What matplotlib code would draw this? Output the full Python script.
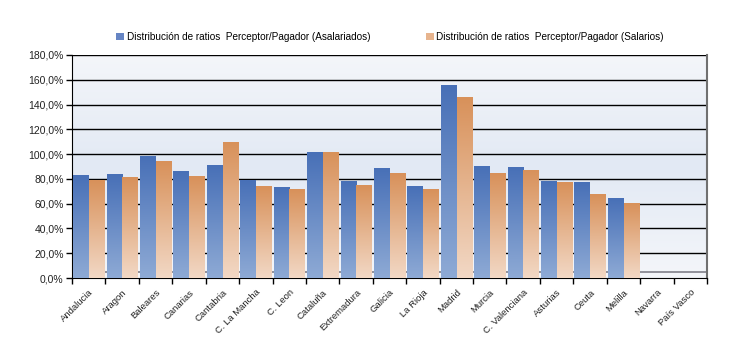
import numpy as np
import matplotlib
matplotlib.use("Agg")
import matplotlib.pyplot as plt
from matplotlib.colors import LinearSegmentedColormap
from matplotlib.patches import Patch

plt.rcParams['font.family'] = ['Liberation Sans', 'DejaVu Sans']

categories = ["Andalucia", "Aragon", "Baleares", "Canarias", "Cantabria", "C. La Mancha",
              "C. Leon", "Cataluña", "Extremadura", "Galicia", "La Rioja", "Madrid",
              "Murcia", "C. Valenciana", "Asturias", "Ceuta", "Melilla", "Navarra", "País Vasco"]
asalariados = [82.5, 83.5, 98.0, 86.0, 91.0, 79.0, 73.0, 101.5, 78.0, 88.5, 74.0, 155.5,
               90.0, 89.0, 78.0, 77.0, 64.5, 0.0, 0.0]
salarios = [78.5, 81.0, 94.0, 82.0, 109.5, 74.0, 71.5, 101.0, 75.0, 84.5, 71.5, 146.0,
            84.5, 87.0, 77.0, 67.5, 60.0, 0.0, 0.0]
series_names = ["Distribución de ratios  Perceptor/Pagador (Asalariados)",
                "Distribución de ratios  Perceptor/Pagador (Salarios)"]
yticks = np.arange(0, 181, 20)

blue_top, blue_bot = "#4870B7", "#8EAAD5"
orange_top, orange_bot = "#D8915A", "#F2D8C5"

fig = plt.figure(figsize=(7.36, 3.6), dpi=100)
ax = fig.add_axes([72/736, 1-278/360, 635/736, 223/360])

n = len(categories)
x = np.arange(n)
w = 0.46

# background gradient
bg = LinearSegmentedColormap.from_list("bg", ["#F4F6FA", "#E2E9F4", "#F4F6FA"])
ax.imshow(np.linspace(0, 1, 256).reshape(-1, 1), cmap=bg, aspect="auto",
          extent=[-0.5, n - 0.5, 0, 180], zorder=0, origin="upper")

# gridlines
for v in yticks[1:]:
    ax.axhline(v, color="black", lw=1.0, zorder=1)
# floor line
ax.axhline(4.6, color="#80808A", lw=1.2, zorder=1)

def grad_bars(xs, vals, top, bot, z):
    cmap = LinearSegmentedColormap.from_list("g", [bot, top])
    bars = ax.bar(xs, vals, width=w, color="none", edgecolor="none", zorder=z)
    for b in bars:
        h = b.get_height()
        if h <= 0:
            continue
        x0 = b.get_x()
        ax.imshow(np.linspace(0, 1, 128).reshape(-1, 1), cmap=cmap, aspect="auto",
                  origin="lower", extent=[x0, x0 + b.get_width(), 0, h], zorder=z)
    return bars

grad_bars(x - 0.235, asalariados, blue_top, blue_bot, 3)
grad_bars(x + 0.235, salarios, orange_top, orange_bot, 3)
ax.set_xlim(-0.5, n - 0.5)
ax.set_ylim(0, 180)

# spines
ax.spines["top"].set_visible(False)
ax.spines["left"].set_color("black")
ax.spines["bottom"].set_color("black")
ax.spines["right"].set_color("#707070")
ax.spines["right"].set_linewidth(1.5)

ax.set_yticks(yticks)
ax.set_yticklabels([f"{v:.1f}%".replace(".", ",") for v in yticks], fontsize=7.5, color="#222222")
ax.tick_params(axis="y", length=4, width=1, color="black", pad=2)

ax.set_xticks(x)
ax.set_xticklabels(categories, rotation=45, ha="right", rotation_mode="anchor",
                   fontsize=6.8, color="#222222")
ax.tick_params(axis="x", which="major", length=0, pad=7)
ax.set_xticks(np.arange(-0.5, n, 1), minor=True)
ax.tick_params(axis="x", which="minor", length=4, width=1, color="black")

handles = [Patch(facecolor="#6685C4", edgecolor="none"),
           Patch(facecolor="#E7B48E", edgecolor="none")]
fig.legend(handles, series_names, loc="center", bbox_to_anchor=(390/736, 1-37/360),
           ncol=2, frameon=False, fontsize=7.2, columnspacing=5.5, handlelength=0.8,
           handleheight=0.8, handletextpad=0.3)

fig.savefig("out.png", dpi=100, facecolor="white")
